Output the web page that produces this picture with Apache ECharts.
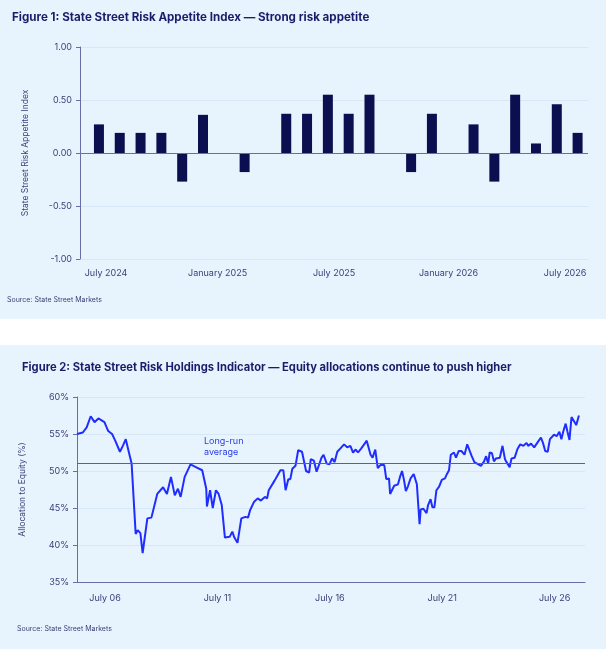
<!DOCTYPE html>
<html>
<head>
<meta charset="utf-8">
<script src="https://cdn.jsdelivr.net/npm/echarts@6/dist/echarts.min.js"></script>
<style>html,body{margin:0;padding:0;background:#fff}#main{width:612px;height:656px}</style>
</head>
<body>
<div id="main"></div>
<script>
// Figure 1: bar slots (monthly-ish), null = no bar
var barValues = [0.27, 0.19, 0.19, 0.19, -0.27, 0.36, null, -0.18, null, 0.37, 0.37, 0.55, 0.37, 0.55, null, -0.18, 0.37, null, 0.27, -0.27, 0.55, 0.09, 0.46, 0.19];
var barTickPos = [0.34, 5.7, 11.3, 16.8, 22.4];
var barTickLabels = ['July 2024', 'January 2025', 'July 2025', 'January 2026', 'July 2026'];

// Figure 2: allocation to equity (%), decimal years
var eqYears = [2005.25, 2005.51, 2005.68, 2005.86, 2006.03, 2006.2, 2006.47, 2006.64, 2006.81, 2006.95, 2007.16, 2007.29, 2007.42, 2007.6, 2007.68, 2007.86, 2007.95, 2008.07, 2008.17,
  2008.38, 2008.56, 2008.82, 2009.08, 2009.25, 2009.43, 2009.6, 2009.74, 2009.86, 2010.04, 2010.12, 2010.3, 2010.56, 2010.82, 2011.0, 2011.03, 2011.17, 2011.29, 2011.43, 2011.55, 2011.69, 2011.83,
  2012.04, 2012.16, 2012.25, 2012.39, 2012.56, 2012.74, 2012.86, 2012.95, 2013.12, 2013.29, 2013.43, 2013.61, 2013.71, 2013.78, 2014.04, 2014.17, 2014.3, 2014.43, 2014.53, 2014.65, 2014.74, 2014.83, 2014.97,
  2015.09, 2015.26, 2015.44, 2015.58, 2015.65, 2015.79, 2015.91, 2016.13, 2016.22, 2016.36, 2016.48, 2016.6, 2016.71, 2016.83, 2016.95, 2017.13, 2017.27, 2017.41, 2017.53, 2017.65, 2017.75, 2017.88, 2018.0,
  2018.14, 2018.31, 2018.4, 2018.52, 2018.63, 2018.75, 2018.92, 2019.01, 2019.13, 2019.18, 2019.36, 2019.53, 2019.62, 2019.71, 2019.79, 2019.88, 2019.97, 2020.09, 2020.23, 2020.37, 2020.49, 2020.54,
  2020.66, 2020.8, 2020.87, 2020.98, 2021.06, 2021.15, 2021.24, 2021.36, 2021.48, 2021.62, 2021.71, 2021.8, 2021.88, 2021.94, 2022.02, 2022.11, 2022.23, 2022.35, 2022.49, 2022.61, 2022.81, 2022.93,
  2023.05, 2023.22, 2023.36, 2023.45, 2023.54, 2023.61, 2023.71, 2023.8, 2023.89, 2024.06, 2024.18, 2024.29, 2024.36, 2024.5, 2024.58, 2024.72, 2024.85, 2024.97, 2025.11, 2025.25, 2025.32, 2025.45,
  2025.59, 2025.77, 2025.89, 2025.98, 2026.08, 2026.19, 2026.29, 2026.47, 2026.59, 2026.71, 2026.8, 2026.88, 2026.99, 2027.07, 2027.16, 2027.25, 2027.46, 2027.58, 2027.72];
var eqValues = [55.0, 55.2, 55.9, 57.4, 56.6, 57.1, 56.6, 55.4, 55.0, 54.1, 52.6, 53.4, 54.3, 52.0, 51.0, 41.5, 42.0, 41.6, 38.9,
  43.6, 43.7, 46.9, 47.8, 46.9, 49.2, 46.7, 47.6, 46.5, 49.2, 49.2, 50.9, 50.5, 50.1, 47.6, 45.2, 47.4, 45.0, 47.4, 46.9, 45.4, 41.0,
  41.1, 41.8, 41.0, 40.3, 43.6, 43.8, 43.7, 44.7, 45.8, 46.3, 46.0, 46.5, 46.3, 47.4, 48.7, 49.4, 50.1, 50.1, 47.4, 48.9, 48.9, 50.3, 50.7,
  52.8, 52.6, 50.0, 49.8, 51.6, 51.4, 49.9, 51.8, 52.2, 51.0, 50.9, 51.7, 51.2, 52.6, 53.0, 53.6, 53.2, 53.4, 52.5, 52.9, 52.5, 53.0, 53.5,
  54.1, 52.2, 51.8, 52.9, 50.4, 50.8, 50.8, 48.9, 49.0, 46.9, 48.0, 48.2, 49.2, 50.0, 48.9, 47.3, 47.9, 49.0, 49.6, 48.2, 42.8,
  44.8, 44.9, 44.3, 45.4, 46.2, 45.1, 45.1, 47.4, 47.9, 48.8, 49.0, 49.6, 50.1, 52.2, 52.0, 52.5, 51.8, 52.7, 52.7, 52.2, 53.6, 52.0,
  51.2, 51.0, 50.7, 51.3, 52.0, 51.0, 52.5, 52.4, 51.3, 51.7, 51.8, 53.4, 51.6, 51.2, 50.5, 51.7, 51.8, 53.0, 53.6, 53.4, 53.8, 53.4,
  53.7, 53.2, 54.0, 54.5, 53.8, 52.7, 52.6, 54.3, 54.9, 54.7, 55.3, 54.3, 55.3, 56.4, 55.3, 54.2, 57.3, 56.2, 57.5];
var eqTickPos = [2006.5, 2011.5, 2016.5, 2021.5, 2026.5];
var eqTickLabels = ['July 06', 'July 11', 'July 16', 'July 21', 'July 26'];
var longRunAvg = 51.1;

var navy = '#1b1d6b';
var axisText = '#3b3e78';
var font = 'Inter';

var barData = barValues.map(function (v, i) { return [i, v]; });
var lineData = eqYears.map(function (y, i) { return [y, eqValues[i]]; });

function lookup(pos, labels) {
  return function (v) {
    for (var i = 0; i < pos.length; i++) if (Math.abs(pos[i] - v) < 0.01) return labels[i];
    return '';
  };
}

var myChart = echarts.init(document.getElementById('main'));
var option = {
  textStyle: { fontFamily: font },
  graphic: [
    { type: 'rect', shape: { x: 0, y: 0, width: 606, height: 319 }, style: { fill: '#e8f4fd' }, z: -10 },
    { type: 'rect', shape: { x: 0, y: 345, width: 606, height: 304 }, style: { fill: '#e8f4fd' }, z: -10 },
    { type: 'text', left: 7, top: 296, style: { text: 'Source: State Street Markets', fill: axisText, font: '7px Inter' } },
    { type: 'text', left: 17, top: 625, style: { text: 'Source: State Street Markets', fill: axisText, font: '7px Inter' } },
    { type: 'text', left: 204, top: 436, style: { text: 'Long-run\naverage', fill: '#2a3be6', font: '9px Inter', align: 'center', lineHeight: 11 } }
  ],
  title: [
    { text: 'Figure 1: State Street Risk Appetite Index — Strong risk appetite', left: 7, top: 7,
      textStyle: { fontSize: 11.6, fontWeight: 'bold', color: navy, fontFamily: font } },
    { text: 'Figure 2: State Street Risk Holdings Indicator — Equity allocations continue to push higher', left: 17, top: 357,
      textStyle: { fontSize: 11.2, fontWeight: 'bold', color: navy, fontFamily: font } }
  ],
  grid: [
    { left: 80, right: 24, top: 47, bottom: 397 },
    { left: 77, right: 27, top: 397, bottom: 74 }
  ],
  xAxis: [
    { gridIndex: 0, type: 'value', min: -0.91, max: 23.5,
      axisLine: { show: false, onZero: false }, axisTick: { show: false }, splitLine: { show: false },
      axisLabel: { customValues: barTickPos, formatter: lookup(barTickPos, barTickLabels), color: axisText, fontSize: 9, margin: 10, fontFamily: font } },
    { gridIndex: 1, type: 'value', min: 2005.25, max: 2027.85,
      axisLine: { show: true, lineStyle: { color: '#6a6da8' } }, axisTick: { show: false }, splitLine: { show: false },
      axisLabel: { customValues: eqTickPos, formatter: lookup(eqTickPos, eqTickLabels), color: axisText, fontSize: 9, margin: 12, fontFamily: font } }
  ],
  yAxis: [
    { gridIndex: 0, type: 'value', min: -1, max: 1, interval: 0.5,
      name: 'State Street Risk Appetite Index', nameLocation: 'middle', nameGap: 50,
      nameTextStyle: { color: axisText, fontSize: 8.5, fontFamily: font },
      axisLine: { show: true, onZero: false, lineStyle: { color: '#6a6da8' } },
      axisTick: { show: true, length: 4, lineStyle: { color: '#6a6da8' } },
      splitLine: { lineStyle: { color: '#d6e8f7' } },
      axisLabel: { formatter: function (v) { return v.toFixed(2); }, color: axisText, fontSize: 9, fontFamily: font } },
    { gridIndex: 1, type: 'value', min: 35, max: 60, interval: 5,
      name: 'Allocation to Equity (%)', nameLocation: 'middle', nameGap: 50,
      nameTextStyle: { color: axisText, fontSize: 8.5, fontFamily: font },
      axisLine: { show: true, lineStyle: { color: '#6a6da8' } },
      axisTick: { show: true, length: 4, lineStyle: { color: '#6a6da8' } },
      splitLine: { lineStyle: { color: '#d6e8f7' } },
      axisLabel: { formatter: '{value}%', color: axisText, fontSize: 9, fontFamily: font } }
  ],
  series: [
    { type: 'bar', xAxisIndex: 0, yAxisIndex: 0, data: barData, barWidth: 10,
      itemStyle: { color: '#0b0f50' },
      markLine: { silent: true, symbol: 'none', label: { show: false },
        lineStyle: { color: '#6a6da8', type: 'solid', width: 1 }, data: [{ yAxis: 0 }] } },
    { type: 'line', xAxisIndex: 1, yAxisIndex: 1, data: lineData, showSymbol: false,
      lineStyle: { color: '#1f2eff', width: 2 },
      markLine: { silent: true, symbol: 'none', label: { show: false },
        lineStyle: { color: '#5a5ea0', type: 'solid', width: 1 }, data: [{ yAxis: longRunAvg }] } }
  ]
};
myChart.setOption(option);
</script>
</body>
</html>
